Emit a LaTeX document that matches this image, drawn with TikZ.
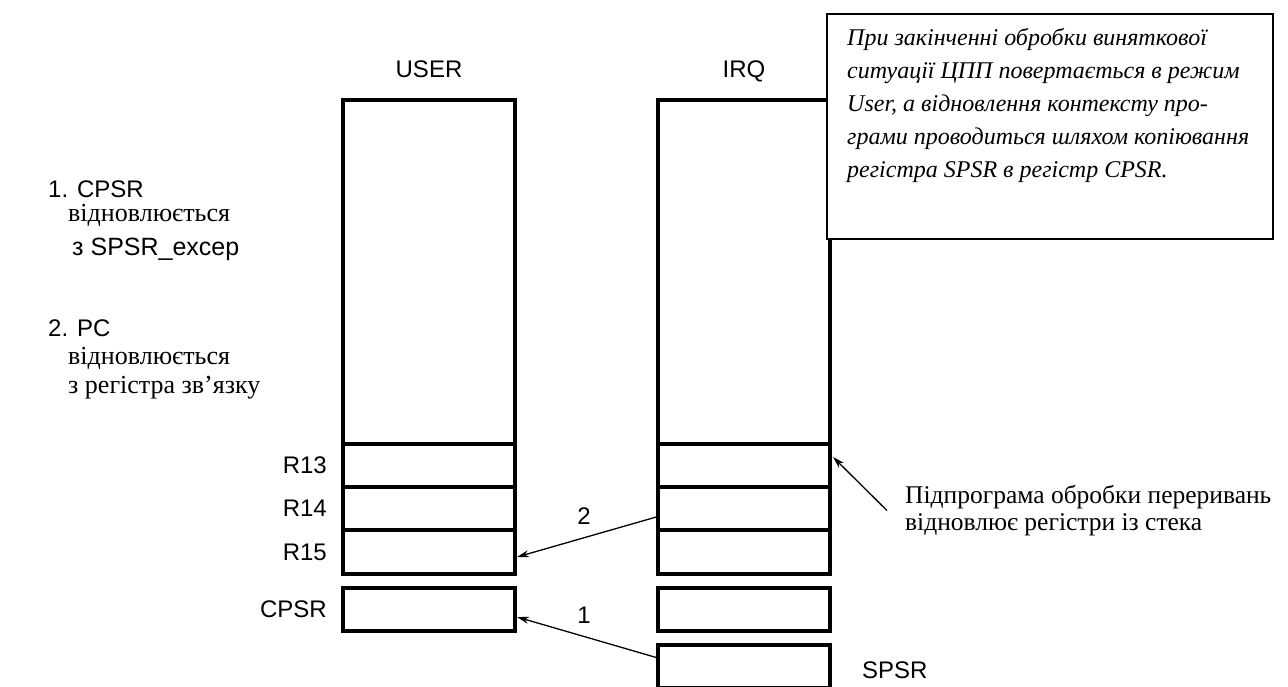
\documentclass[tikz,border=0pt]{standalone}
\usepackage{fontspec}
\setmainfont{Liberation Serif}
\newfontfamily\helv{Liberation Sans}
\usetikzlibrary{arrows.meta,positioning}

\begin{document}
\begin{tikzpicture}[
  x=1pt, y=-1pt,
  reg/.style={draw, line width=4pt, minimum width=172pt, minimum height=43pt, inner sep=0pt, outer sep=0pt},
  tag/.style={font=\helv\fontsize{24}{28}\selectfont, inner sep=0pt},
  ukr/.style={font=\fontsize{26}{28}\selectfont, inner sep=0pt},
  arr/.style={-{Stealth[length=12pt,width=7pt]}, line width=1.3pt}
]
  \useasboundingbox (0,0) rectangle (1288,686);

  % USER registers
  \node[reg, minimum height=344pt] (ustack) at (429,272) {};
  \node[reg, below=0pt of ustack] (ur13) {};
  \node[reg, below=0pt of ur13] (ur14) {};
  \node[reg, minimum height=44pt, below=0pt of ur14] (ur15) {};
  \node[reg] (ucpsr) at (429,609.5) {};

  % IRQ registers
  \node[reg, minimum height=344pt] (istack) at (744,272) {};
  \node[reg, below=0pt of istack] (ir13) {};
  \node[reg, below=0pt of ir13] (ir14) {};
  \node[reg, minimum height=44pt, below=0pt of ir14] (ir15) {};
  \node[reg] (icpsr) at (744,609.5) {};
  \node[reg] (ispsr) at (744,666.5) {};

  \node[tag, above=22pt of ustack] (user) {USER};
  \node[tag, anchor=base] (irq) at (istack.north |- user.base) {IRQ};
  \node[tag, left=16pt of ur13] (lr13) {R13};
  \node[tag, left=16pt of ur14] (lr14) {R14};
  \node[tag, left=16pt of ur15] (lr15) {R15};
  \node[tag, left=16pt of ucpsr] (lcpsr) {CPSR};
  \node[tag, right=32pt of ispsr, yshift=-4pt] (lspsr) {SPSR};

  % note
  \node[draw, line width=1.8pt, fill=white, minimum width=446pt, minimum height=225pt, inner sep=0pt] (note) at (1050,126.5) {};
  \node[anchor=north west, align=left, inner sep=0pt, font=\itshape\fontsize{24}{33}\selectfont] (notetext) at (847,28)
    {При закінченні обробки виняткової\\ситуації ЦПП повертається в режим\\User, а відновлення контексту про-\\грами проводиться шляхом копіювання\\регістра SPSR в регістр CPSR.};

  % steps
  \node[tag, anchor=base west] (s1) at (48,197) {1. CPSR};
  \node[ukr, anchor=base west] (s1a) at (68,221) {відновлюється};
  \node[tag, font=\helv\fontsize{25}{28}\selectfont, anchor=base west] (s1b) at (72,255) {з SPSR\_excep};
  \node[tag, anchor=base west] (s2) at (48,336) {2. PC};
  \node[ukr, anchor=base west] (s2a) at (68,364) {відновлюється};
  \node[ukr, anchor=base west] (s2b) at (68,393) {з регістра зв’язку};

  \node[ukr, font=\fontsize{25.5}{27}\selectfont, anchor=north west, align=left] (isrnote) at (905,485)
    {Підпрограма обробки переривань\\відновлює регістри із стека};

  \draw[arr] ([xshift=-18pt]isrnote.west) -- ([xshift=3pt, yshift=8.5pt]ir13.east);
  \draw[arr] ([yshift=-8pt]ir14.west) -- ([xshift=2pt, yshift=-5pt]ur15.east);
  \node[tag] (n2) at (584,516) {2};
  \draw[arr] ([yshift=8.5pt]ispsr.west) -- ([xshift=2pt, yshift=-7.5pt]ucpsr.east);
  \node[tag] (n1) at (584,615) {1};
\end{tikzpicture}
\end{document}
